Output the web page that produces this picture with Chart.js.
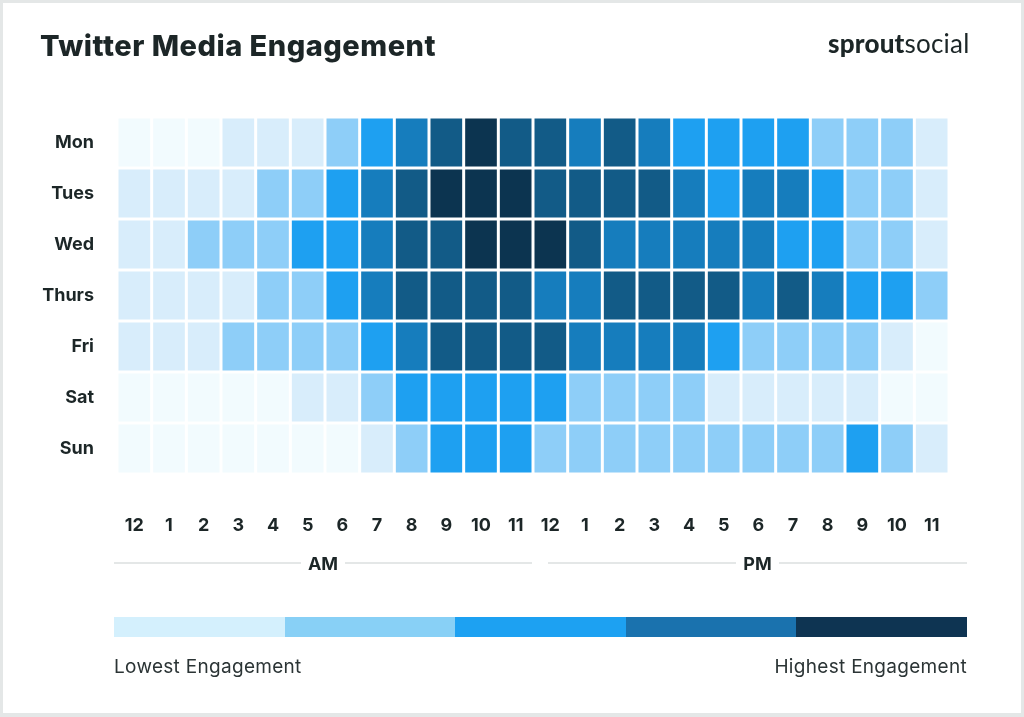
<!DOCTYPE html>
<html>
<head>
<meta charset="utf-8">
<script src="https://cdn.jsdelivr.net/npm/chart.js@4.4.1/dist/chart.umd.min.js"></script>
<style>
  body { margin: 0; background: #fff; font-family: Inter, Lato, sans-serif; color: #1c2627; }
  #frame { position: absolute; left: 0; top: 0; width: 1024px; height: 717px; box-sizing: border-box;
           border: 3px solid #e4e7e7; border-bottom-width: 4px; }
  #chart { position: absolute; left: 0; top: 0; }
  #title { position: absolute; left: 40px; top: 28px; font-size: 29px; font-weight: 800; letter-spacing: 0.5px; }
  #logo { position: absolute; left: 828px; top: 27px; font-family: Lato, sans-serif; font-size: 26px; letter-spacing: 0.2px; }
  #logo b { font-weight: 900; }
  #logo span { font-weight: 400; }
  .half { position: absolute; top: 551px; height: 24px; display: flex; align-items: center; }
  .half .line { flex: 1; height: 2px; background: #e4e7e7; }
  .half .lbl { font-weight: 700; font-size: 18px; padding: 0 7px; }
  #am { left: 114px; width: 418px; }
  #pm { left: 548px; width: 419px; }
  #bar { position: absolute; left: 114px; top: 617px; width: 853px; height: 20px; display: flex; }
  #bar div { flex: 1; }
  .cap { position: absolute; top: 655px; font-size: 19px; letter-spacing: 0.3px; color: #2b3435; }
  #lo { left: 114px; }
  #hi { right: 57px; }
</style>
</head>
<body>
<div id="frame"></div>
<canvas id="chart" width="1024" height="717"></canvas>
<div id="title">Twitter Media Engagement</div>
<div id="logo"><b>sprout</b><span>social</span></div>
<div class="half" id="am"><div class="line"></div><div class="lbl">AM</div><div class="line"></div></div>
<div class="half" id="pm"><div class="line"></div><div class="lbl">PM</div><div class="line"></div></div>
<div id="bar"></div>
<div class="cap" id="lo">Lowest Engagement</div>
<div class="cap" id="hi">Highest Engagement</div>
<script>
// hours along the bottom, days down the side
var hours = ['12','1','2','3','4','5','6','7','8','9','10','11','12','1','2','3','4','5','6','7','8','9','10','11'];
var days = ['Mon', 'Tues', 'Wed', 'Thurs', 'Fri', 'Sat', 'Sun'];

// engagement level per hour (0 = lowest, 6 = highest)
var mon   = [0,0,0,1,1,1,2,3,4,5,6,5, 5,4,5,4,3,3,3,3,2,2,2,1];
var tues  = [1,1,1,1,2,2,3,4,5,6,6,6, 5,5,5,5,4,3,4,4,3,2,2,1];
var wed   = [1,1,2,2,2,3,3,4,5,5,6,6, 6,5,4,4,4,4,4,3,3,2,2,1];
var thurs = [1,1,1,1,2,2,3,4,5,5,5,5, 4,4,5,5,5,5,4,5,4,3,3,2];
var fri   = [1,1,1,2,2,2,2,3,4,5,5,5, 5,4,4,4,4,3,2,2,2,2,1,0];
var sat   = [0,0,0,0,0,1,1,2,3,3,3,3, 3,2,2,2,2,1,1,1,1,1,0,0];
var sun   = [0,0,0,0,0,0,0,1,2,3,3,3, 2,2,2,2,2,2,2,2,2,3,2,1];

var levelColors = ['#f2fbfe','#d8edfb','#8ecef8','#1ea0f1','#167dbd','#125b87','#0c3450'];
var legendColors = ['#d4f0fd','#88d0f6','#1da1f2','#1a72ae','#0e3452'];

var rows = [mon, tues, wed, thurs, fri, sat, sun];

legendColors.forEach(function(c) {
	var d = document.createElement('div');
	d.style.background = c;
	document.getElementById('bar').appendChild(d);
});

var datasets = rows.map(function(levels, r) {
	return {
		label: days[r],
		data: levels.map(function() { return [r, r + 1]; }),
		backgroundColor: levels.map(function(l) { return levelColors[l]; }),
		borderColor: '#ffffff',
		borderWidth: 1.5,
		borderSkipped: false,
		inflateAmount: 0,
		grouped: false,
		barPercentage: 1,
		categoryPercentage: 1
	};
});

var labelFont = { family: 'Inter', size: 18, weight: 'bold' };

new Chart(document.getElementById('chart'), {
	type: 'bar',
	data: { labels: hours, datasets: datasets },
	options: {
		responsive: false,
		animation: false,
		layout: { padding: { top: 117, right: 75, bottom: 0, left: 0 } },
		plugins: { legend: { display: false }, tooltip: { enabled: false } },
		scales: {
			x: {
				grid: { display: false },
				border: { display: false },
				ticks: { color: '#1c2627', font: labelFont, padding: 33, maxRotation: 0, autoSkip: false },
				afterFit: function(s) { s.height = 717 - 474; }
			},
			y: {
				min: 0, max: 7, reverse: true,
				grid: { display: false },
				border: { display: false },
				afterBuildTicks: function(axis) {
					axis.ticks = days.map(function(d, i) { return { value: i + 0.5 }; });
				},
				ticks: {
					color: '#1c2627', font: labelFont, padding: 15,
					callback: function(v) { return days[Math.floor(v)]; }
				},
				afterFit: function(s) { s.width = 117; }
			}
		}
	}
});
</script>
</body>
</html>
